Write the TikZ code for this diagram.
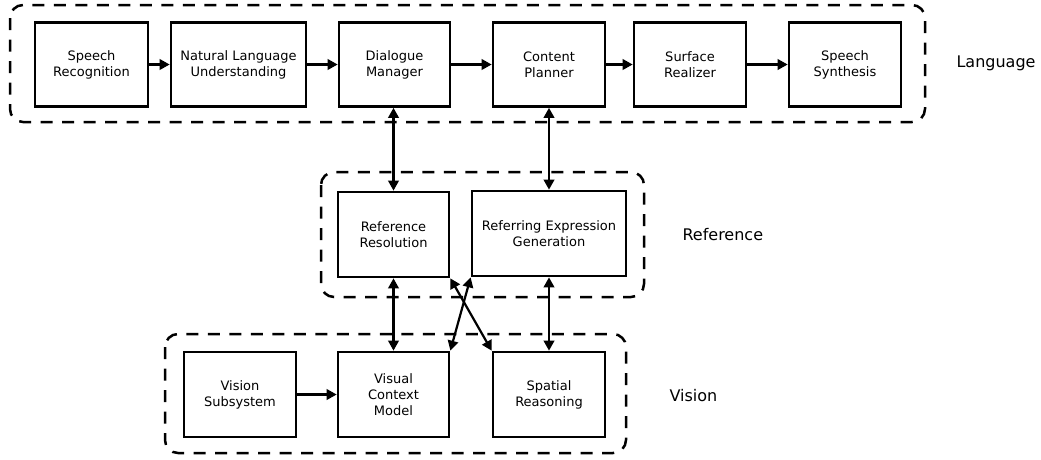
\documentclass[tikz,border=0pt]{standalone}
\usepackage{fontspec}
\setmainfont{DejaVu Sans}
\usetikzlibrary{arrows.meta}
\begin{document}
\begin{tikzpicture}[x=1pt,y=-1pt,
  module/.style={draw,line width=2.7pt,rectangle,minimum height=84pt,
    align=center,inner sep=0pt,font=\fontsize{13}{16}\selectfont},
  group/.style={draw,line width=2.5pt,rounded corners=13pt,dash pattern=on 12pt off 9.5pt},
  tip/.tip={Triangle[length=10pt,width=10.5pt]},
  flow/.style={line width=2.2pt,-tip},
  link/.style={line width=2.2pt,tip-tip},
  grouplabel/.style={font=\fontsize{16}{19}\selectfont,anchor=west}]
\useasboundingbox (0,0) rectangle (1041,459);

% language pipeline
\node[module,minimum width=113pt] (asr) at (91.5,64.5) {Speech\\Recognition};
\node[module,minimum width=135pt] (nlu) at (238.5,64.5) {Natural Language\\Understanding};
\node[module,minimum width=111pt] (dm)  at (394.5,64.5) {Dialogue\\Manager};
\node[module,minimum width=112pt] (cp)  at (549,64.5) {Content\\Planner};
\node[module,minimum width=112pt] (sr)  at (690,64.5) {Surface\\Realizer};
\node[module,minimum width=112pt] (tts) at (845,64.5) {Speech\\Synthesis};

% reference modules
\node[module,minimum width=111pt,minimum height=85pt] (res) at (393.5,234.5) {Reference\\Resolution};
\node[module,minimum width=154pt,minimum height=85pt] (reg) at (549,233.5) {Referring Expression\\Generation};

% vision modules
\node[module,minimum width=112pt,minimum height=85pt] (vis) at (240,394.5) {Vision\\Subsystem};
\node[module,minimum width=111pt,minimum height=85pt] (vcm) at (393.5,394.5) {Visual\\Context\\Model};
\node[module,minimum width=112pt,minimum height=85pt] (spr) at (549,394.5) {Spatial\\Reasoning};

% groups
\draw[group] (10,5) rectangle (925,122);
\draw[group] (321,172) rectangle (644,297);
\draw[group] (165,334) rectangle (626,453);

\node[grouplabel] (langlbl) at (953,63) {Language};
\node[grouplabel] (reflbl) at (679,235) {Reference};
\node[grouplabel] (vislbl) at (666,396) {Vision};

% connections
\draw[flow] (asr) -- (nlu);
\draw[flow] (nlu) -- (dm);
\draw[flow] (dm) -- (cp);
\draw[flow] (cp) -- (sr);
\draw[flow] (sr) -- (tts);
\draw[flow] (vis) -- (vcm);

\draw[link] (dm.south -| res.north) -- (res.north);
\draw[link] (cp.south) -- (reg.north);
\draw[link] (res.south) -- (vcm.north);
\draw[link] (reg.south) -- (spr.north);
\draw[link] (res.south east) -- (spr.north west);
\draw[link] (reg.south west) -- (vcm.north east);
\end{tikzpicture}
\end{document}
